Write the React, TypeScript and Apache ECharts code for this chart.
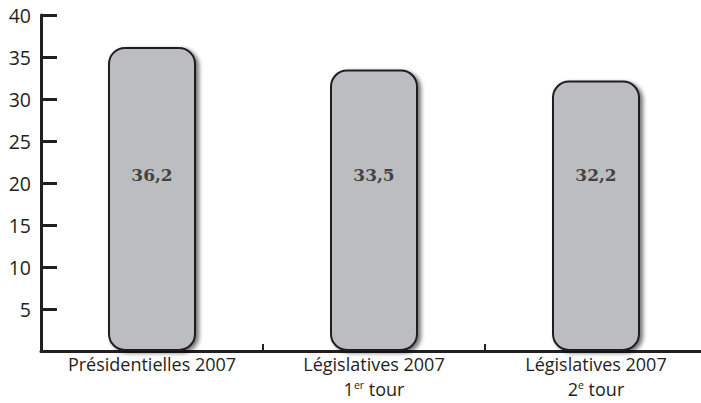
import React, { useEffect, useRef } from "react";
import * as echarts from "echarts";

const categories = ["Présidentielles 2007", "Législatives 2007\n1{sup|er} tour", "Législatives 2007\n2{sup|e} tour"];
const values = [36.2, 33.5, 32.2];
const yTicks = { min: 0, max: 40, interval: 5 };
const LABEL_Y = 21;

const INK = "#231f20";

export default function App() {
  const ref = useRef<HTMLDivElement>(null);
  useEffect(() => {
    if (!ref.current) return;
    const chart = echarts.init(ref.current, undefined, { renderer: "svg" });
    chart.setOption({
      animation: false,
      grid: { left: 41, top: 15, bottom: 52, right: -6, containLabel: false, outerBoundsMode: "none" },
      xAxis: {
        type: "category",
        data: categories,
        boundaryGap: true,
        axisLine: { show: true, lineStyle: { color: INK, width: 3 } },
        axisTick: { show: true, inside: true, length: 7, lineStyle: { color: INK, width: 2 } },
        axisLabel: {
          color: INK,
          fontFamily: "Open Sans",
          fontSize: 18,
          margin: 1,
          lineHeight: 24.5,
          interval: 0,
          rich: {
            sup: {
              fontSize: 10.5,
              fontFamily: "Open Sans",
              color: INK,
              verticalAlign: "top",
              lineHeight: 11,
              padding: [3, 0, 0, 0],
            },
          },
        },
        splitLine: { show: false },
      },
      yAxis: {
        type: "value",
        min: yTicks.min,
        max: yTicks.max,
        interval: yTicks.interval,
        axisLine: { show: true, lineStyle: { color: INK, width: 3 } },
        axisTick: { show: true, inside: true, length: 16, lineStyle: { color: INK, width: 3 } },
        axisLabel: {
          color: INK,
          fontFamily: "Open Sans",
          fontSize: 19.5,
          margin: 10,
          formatter: (v: number) => (v === 0 ? "" : String(v)),
        },
        splitLine: { show: false },
      },
      series: [
        {
          type: "bar",
          data: values,
          barWidth: 88,
          itemStyle: {
            color: "#bcbdc1",
            borderColor: INK,
            borderWidth: 2,
            borderRadius: 16,
            shadowColor: "rgba(0,0,0,0.55)",
            shadowBlur: 4,
            shadowOffsetX: 3,
            shadowOffsetY: 2,
          },
          z: 1,
        },
        {
          type: "scatter",
          symbolSize: 0,
          data: values.map(() => LABEL_Y),
          z: 5,
          label: {
            show: true,
            position: "inside",
            formatter: (p: any) => values[p.dataIndex].toFixed(1).replace(".", ","),
            fontFamily: "DejaVu Serif",
            fontWeight: "bold",
            fontSize: 17,
            color: INK,
          },
        },
      ],
    });
    return () => chart.dispose();
  }, []);
  return <div ref={ref} style={{ width: 701, height: 403, position: "absolute", left: 0, top: 0 }} />;
}
